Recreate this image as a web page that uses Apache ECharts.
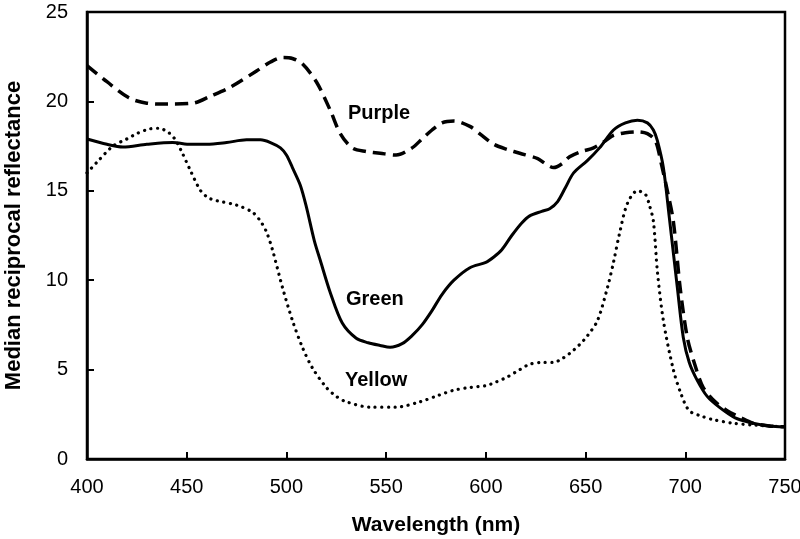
<!DOCTYPE html>
<html>
<head>
<meta charset="utf-8">
<script src="https://cdn.jsdelivr.net/npm/echarts@6/dist/echarts.min.js"></script>
<style>html,body{margin:0;padding:0;background:#fff}#c{width:800px;height:539px}</style>
</head>
<body>
<div id="c"></div>
<script>
var xTicks = [400, 450, 500, 550, 600, 650, 700, 750];
var yTicks = [0, 5, 10, 15, 20, 25];
var seriesNames = ['Purple', 'Green', 'Yellow'];

var purpleData = [[400,22.0],[410,21.1],[421,20.2],[430,19.9],[440,19.85],[453,19.9],[462,20.3],[472,20.8],[485,21.7],[492,22.2],[498,22.45],[503,22.4],[508,22.1],[515,21.1],[522,19.5],[527,18.2],[533,17.4],[540,17.2],[547,17.1],[555,17.0],[563,17.4],[568,17.9],[573,18.4],[578,18.8],[584,18.9],[592,18.6],[598,18.1],[604,17.6],[611,17.3],[617,17.1],[626,16.8],[630,16.5],[634,16.3],[638,16.5],[642,16.9],[648,17.2],[654,17.4],[660,17.8],[664,18.1],[670,18.25],[676,18.3],[681,18.2],[685,17.8],[688,16.5],[691,15.0],[694,13.3],[697.4,9.6],[701,6.8],[705,5.2],[709,4.0],[715,3.2],[721,2.7],[728,2.3],[734,2.0],[742,1.85],[750,1.8]];

var greenData = [[400,17.9],[410,17.6],[418,17.45],[430,17.6],[443,17.7],[452,17.6],[460,17.6],[470,17.7],[480,17.85],[487,17.85],[492,17.7],[497,17.4],[500,17.0],[503,16.3],[507,15.3],[510,14.1],[514,12.2],[517,11.1],[522,9.3],[528,7.6],[535,6.75],[541,6.5],[547,6.35],[552,6.25],[558,6.45],[563,6.9],[568,7.5],[573,8.3],[578,9.2],[584,10.0],[592,10.7],[600,11.0],[604,11.3],[608,11.7],[613,12.5],[618,13.2],[622,13.6],[628,13.85],[632,14.0],[636,14.4],[640,15.2],[644,16.0],[651,16.7],[657,17.4],[664,18.4],[670,18.8],[676,18.95],[681,18.8],[684,18.4],[686,17.8],[689,16.3],[692,13.5],[696,9.6],[699,6.8],[702,5.4],[706,4.4],[711,3.5],[717,2.9],[725,2.3],[734,2.0],[742,1.85],[750,1.8]];

var yellowData = [[400,16.0],[405,16.6],[413,17.5],[420,17.9],[425,18.2],[431,18.45],[436,18.5],[441,18.25],[444,17.9],[447,17.3],[452,16.1],[457,15.0],[461,14.6],[465,14.45],[475,14.2],[483,13.8],[487,13.3],[490,12.7],[493,11.7],[498,9.6],[503,7.75],[508,6.25],[513,5.1],[520,4.0],[525,3.5],[530,3.2],[542,2.9],[555,2.9],[567,3.2],[576,3.55],[584,3.85],[592,4.0],[600,4.1],[605,4.3],[611,4.6],[617,5.0],[622,5.3],[628,5.4],[634,5.4],[638,5.6],[642,5.9],[647,6.4],[651,6.9],[656,7.75],[661,9.6],[664,11.0],[667,12.6],[671,14.3],[676,15.0],[680,14.8],[682,14.2],[684,13.3],[686,10.5],[689,7.75],[694,5.0],[698,3.6],[702,2.7],[708,2.4],[714,2.2],[724,2.0],[734,1.9],[750,1.8]];

var FONT = '"Liberation Sans", Arial, sans-serif';
var chart = echarts.init(document.getElementById('c'), null, {renderer: 'canvas'});

var option = {
  backgroundColor: '#fff',
  animation: false,
  grid: {left: 87, top: 12, right: 15, bottom: 80, containLabel: false, outerBoundsMode: 'none',
         show: true, borderColor: '#000', borderWidth: 2.5, backgroundColor: 'transparent'},
  xAxis: {
    type: 'value', min: xTicks[0], max: xTicks[xTicks.length - 1], interval: 50,
    name: 'Wavelength (nm)', nameLocation: 'middle', nameGap: 56,
    nameTextStyle: {fontFamily: FONT, fontWeight: 'bold', fontSize: 21, color: '#000'},
    axisLine: {show: true, lineStyle: {color: '#000', width: 2.5}},
    axisTick: {show: true, inside: true, length: 7, lineStyle: {color: '#000', width: 2}},
    axisLabel: {fontFamily: FONT, fontSize: 20, color: '#000', margin: 18},
    splitLine: {show: false}
  },
  yAxis: {
    type: 'value', min: yTicks[0], max: yTicks[yTicks.length - 1], interval: 5,
    name: 'Median reciprocal reflectance', nameLocation: 'middle', nameGap: 62,
    nameTextStyle: {fontFamily: FONT, fontWeight: 'bold', fontSize: 22, color: '#000'},
    axisLine: {show: true, lineStyle: {color: '#000', width: 2.5}},
    axisTick: {show: true, inside: true, length: 7, lineStyle: {color: '#000', width: 2}},
    axisLabel: {fontFamily: FONT, fontSize: 20, color: '#000', margin: 19},
    splitLine: {show: false}
  },
  series: [
    {name: seriesNames[0], type: 'line', data: purpleData, smooth: 0.3, showSymbol: false, symbol: 'none',
     lineStyle: {color: '#000', width: 3.5, type: [13, 7]}},
    {name: seriesNames[1], type: 'line', data: greenData, smooth: 0.3, showSymbol: false, symbol: 'none',
     lineStyle: {color: '#000', width: 3}},
    {name: seriesNames[2], type: 'line', data: yellowData, smooth: 0.3, showSymbol: false, symbol: 'none',
     lineStyle: {color: '#000', width: 3.2, type: [0.1, 6.5], cap: 'round'}}
  ],
  graphic: [
    {type: 'text', left: 348, top: 103, style: {text: seriesNames[0], font: 'bold 20px ' + FONT, fill: '#000'}},
    {type: 'text', left: 346, top: 289, style: {text: seriesNames[1], font: 'bold 20px ' + FONT, fill: '#000'}},
    {type: 'text', left: 345, top: 370, style: {text: seriesNames[2], font: 'bold 20px ' + FONT, fill: '#000'}}
  ]
};
chart.setOption(option);
</script>
</body>
</html>
